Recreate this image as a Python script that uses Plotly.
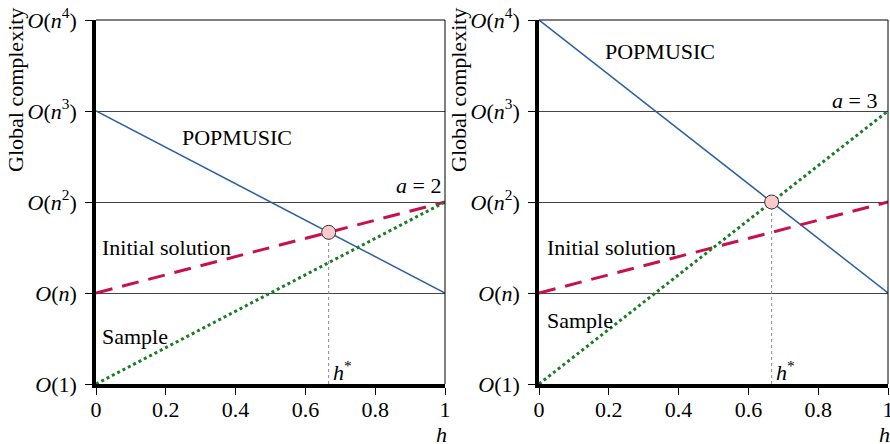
import plotly.graph_objects as go

# ---- data ----
h = [0, 1]
left_popmusic = [3, 1]
left_initial = [1, 2]
left_sample = [0, 2]
right_popmusic = [4, 1]
right_initial = [1, 2]
right_sample = [0, 3]
h_star = 2 / 3
left_cross = 5 / 3
right_cross = 2

y_tickvals = [0, 1, 2, 3, 4]
y_ticktext = ["<i>O</i>(1)", "<i>O</i>(<i>n</i>)", "<i>O</i>(<i>n</i><sup>2</sup>)",
              "<i>O</i>(<i>n</i><sup>3</sup>)", "<i>O</i>(<i>n</i><sup>4</sup>)"]
x_tickvals = [0, 0.2, 0.4, 0.6, 0.8, 1]
x_ticktext = ["0", "0.2", "0.4", "0.6", "0.8", "1"]

BLUE = "#2a609f"
RED = "#c8104c"
GREEN = "#1a7d25"
FONT = "Liberation Serif"
FS = 22
W, H = 890, 444

def px(x):
    return x / W

def py(y):
    return 1 - y / H

fig = go.Figure()

panels = [
    ("x", "y", left_popmusic, left_initial, left_sample, left_cross),
    ("x2", "y2", right_popmusic, right_initial, right_sample, right_cross),
]
for xa, ya, pop, ini, smp, cross in panels:
    fig.add_trace(go.Scatter(x=[h_star, h_star], y=[0, cross], mode="lines",
                             line=dict(color="#888888", width=1, dash="dot"),
                             xaxis=xa, yaxis=ya, showlegend=False))
    fig.add_trace(go.Scatter(x=h, y=pop, mode="lines", line=dict(color=BLUE, width=1.5),
                             xaxis=xa, yaxis=ya, showlegend=False))
    fig.add_trace(go.Scatter(x=h, y=ini, mode="lines",
                             line=dict(color=RED, width=3, dash="17px,10px"),
                             xaxis=xa, yaxis=ya, showlegend=False))
    fig.add_trace(go.Scatter(x=h, y=smp, mode="lines",
                             line=dict(color=GREEN, width=3, dash="dot"),
                             xaxis=xa, yaxis=ya, showlegend=False))
    fig.add_trace(go.Scatter(x=[h_star], y=[cross], mode="markers",
                             marker=dict(size=14, color="#fbc9c9",
                                         line=dict(color="#333333", width=1)),
                             xaxis=xa, yaxis=ya, showlegend=False, cliponaxis=False))

xdoms = [[px(96), px(445)], [px(539), px(888)]]
ydom = [py(384), py(20)]

axcommon_x = dict(range=[0, 1], tickvals=x_tickvals, ticktext=x_ticktext,
                  ticks="outside", ticklen=7, tickcolor="black", showgrid=False,
                  zeroline=False, showline=True, linecolor="black", linewidth=3.5,
                  automargin=False, ticklabelstandoff=-4, ticklabeloverflow="allow",
                  tickfont=dict(family=FONT, size=FS, color="black"))
axcommon_y = dict(range=[0, 4], tickvals=y_tickvals, ticktext=y_ticktext,
                  ticks="outside", ticklen=7, tickcolor="black", showgrid=True,
                  gridcolor="#444444", gridwidth=1, zeroline=False, showline=True,
                  linecolor="black", linewidth=3.5, automargin=False,
                  ticklabelstandoff=4, ticklabeloverflow="allow",
                  tickfont=dict(family=FONT, size=FS, color="black"))

fig.update_layout(
    width=W, height=H,
    margin=dict(l=0, r=0, t=0, b=0, autoexpand=False),
    paper_bgcolor="white", plot_bgcolor="white",
    xaxis=dict(domain=xdoms[0], anchor="y", **axcommon_x),
    yaxis=dict(domain=ydom, anchor="x", **axcommon_y),
    xaxis2=dict(domain=xdoms[1], anchor="y2", **axcommon_x),
    yaxis2=dict(domain=ydom, anchor="x2", **axcommon_y),
)

# right and top borders
for xr, yr in [("x", "y"), ("x2", "y2")]:
    fig.add_shape(type="line", xref=f"{xr} domain", yref=f"{yr} domain",
                  x0=1, x1=1, y0=0, y1=1, line=dict(color="black", width=1))
    fig.add_shape(type="line", xref=f"{xr} domain", yref=f"{yr} domain",
                  x0=0, x1=1, y0=1, y1=1, line=dict(color="black", width=1))

def txt(xr, yr, x, y, s, xanchor="left", yanchor="middle"):
    fig.add_annotation(xref=xr, yref=yr, x=x, y=y, text=s, showarrow=False,
                       xanchor=xanchor, yanchor=yanchor,
                       font=dict(family=FONT, size=FS, color="black"))

# left panel text
txt("x", "y", 0.24, 2.71, "POPMUSIC")
txt("x", "y", 0.995, 2.18, "<i>a</i> = 2", xanchor="right")
txt("x", "y", 0.012, 1.5, "Initial solution")
txt("x", "y", 0.012, 0.52, "Sample")
txt("x", "y", 0.672, 0.14, "<i>h</i><sup>*</sup>")
# right panel text
txt("x2", "y2", 0.183, 3.65, "POPMUSIC")
txt("x2", "y2", 0.975, 3.12, "<i>a</i> = 3", xanchor="right")
txt("x2", "y2", 0.018, 1.5, "Initial solution")
txt("x2", "y2", 0.018, 0.70, "Sample")
txt("x2", "y2", 0.674, 0.14, "<i>h</i><sup>*</sup>")

# axis titles
for xpix in [15, 458]:
    fig.add_annotation(xref="paper", yref="paper", x=px(xpix), y=py(90),
                       text="Global complexity", textangle=-90, showarrow=False,
                       xanchor="center", yanchor="middle",
                       font=dict(family=FONT, size=FS, color="black"))
for xpix in [441, 884]:
    fig.add_annotation(xref="paper", yref="paper", x=px(xpix), y=py(434),
                       text="<i>h</i>", showarrow=False,
                       xanchor="center", yanchor="middle",
                       font=dict(family=FONT, size=FS, color="black"))

fig.write_html("out.html",
               config={"displayModeBar": False},
               post_script="document.body.style.margin='0';"
                           "document.body.style.overflow='hidden';")
